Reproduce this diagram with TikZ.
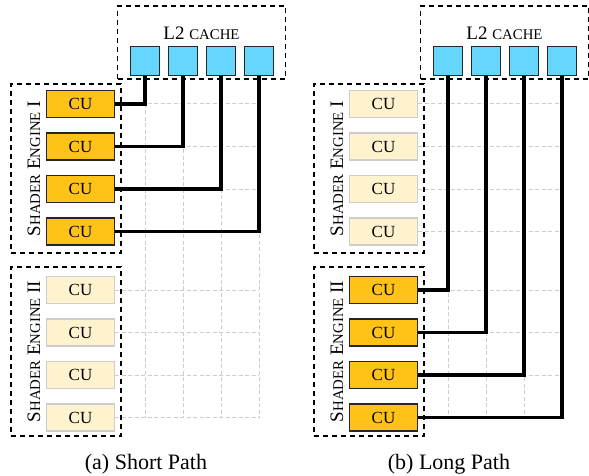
\documentclass[tikz,border=0pt]{standalone}
\usepackage{fontspec}
\setmainfont{Liberation Serif}
\usepackage{tikz}
\pgfdeclarelayer{bg}
\pgfsetlayers{bg,main}
\definecolor{cachefill}{RGB}{102,214,255}
\definecolor{cuonfill}{RGB}{255,194,22}
\definecolor{cuofffill}{RGB}{255,242,207}
\definecolor{cuoffline}{RGB}{205,205,205}
\definecolor{gridline}{RGB}{205,205,205}
\newcommand\fakesc[1]{{\fontsize{14.8pt}{15pt}\selectfont #1}}
\tikzset{
        cache/.style={draw=black!85, fill=cachefill, line width=1.5pt,
                minimum width=29pt, minimum height=29pt, inner sep=0pt},
        cuon/.style={draw=black!85, fill=cuonfill, line width=1.2pt,
                minimum width=68pt, minimum height=27pt, inner sep=0pt,
                font=\fontsize{17pt}{18pt}\selectfont},
        cuoff/.style={cuon, draw=cuoffline, fill=cuofffill},
        group/.style={draw, line width=1.3pt, dash pattern=on 5pt off 4pt, inner sep=0pt},
        grouplabel/.style={rotate=90, font=\fontsize{19pt}{20pt}\selectfont},
        wire/.style={line width=3.2pt},
        gridl/.style={draw=gridline, line width=1pt, dash pattern=on 4pt off 2.5pt},
        caption/.style={font=\fontsize{22pt}{24pt}\selectfont}
}

\begin{document}
\begin{tikzpicture}[x=1pt, y=-1pt]
        \useasboundingbox (0, 0) rectangle (589, 476);
        % (a) short path
        \node (al2) [group, minimum width=168pt, minimum height=73pt] at (201.5, 42.5) {};
        \node (al2lab) [font=\fontsize{19pt}{20pt}\selectfont] at (201.5, 33) {L2 \fakesc{CACHE}};
        \node (ac0) [cache] at (145, 61) {};
        \node (ac1) [cache] at (183, 61) {};
        \node (ac2) [cache] at (221, 61) {};
        \node (ac3) [cache] at (259, 61) {};
        \node (ase1) [group, minimum width=110pt, minimum height=169pt] at (66, 168.5) {};
        \node (ase1lab) [grouplabel] at (34, 168.5) {S\fakesc{HADER} E\fakesc{NGINE} I};
        \node (ase2) [group, minimum width=110pt, minimum height=169pt] at (66, 351.5) {};
        \node (ase2lab) [grouplabel] at (34, 351.5) {S\fakesc{HADER} E\fakesc{NGINE} II};
        \node (au0) [cuon] at (80.5, 104) {CU};
        \node (au1) [cuon] at (80.5, 146.5) {CU};
        \node (au2) [cuon] at (80.5, 189) {CU};
        \node (au3) [cuon] at (80.5, 231.5) {CU};
        \node (au4) [cuoff] at (80.5, 290) {CU};
        \node (au5) [cuoff] at (80.5, 332.5) {CU};
        \node (au6) [cuoff] at (80.5, 375) {CU};
        \node (au7) [cuoff] at (80.5, 417.5) {CU};
        \node (acap) [caption] at (146, 464) {(a) Short Path};
        % (b) long path
        \node (bl2) [group, minimum width=168pt, minimum height=73pt] at (504.5, 42.5) {};
        \node (bl2lab) [font=\fontsize{19pt}{20pt}\selectfont] at (504.5, 33) {L2 \fakesc{CACHE}};
        \node (bc0) [cache] at (448, 61) {};
        \node (bc1) [cache] at (486, 61) {};
        \node (bc2) [cache] at (524, 61) {};
        \node (bc3) [cache] at (562, 61) {};
        \node (bse1) [group, minimum width=110pt, minimum height=169pt] at (369, 168.5) {};
        \node (bse1lab) [grouplabel] at (337, 168.5) {S\fakesc{HADER} E\fakesc{NGINE} I};
        \node (bse2) [group, minimum width=110pt, minimum height=169pt] at (369, 351.5) {};
        \node (bse2lab) [grouplabel] at (337, 351.5) {S\fakesc{HADER} E\fakesc{NGINE} II};
        \node (bu0) [cuoff] at (383.5, 104) {CU};
        \node (bu1) [cuoff] at (383.5, 146.5) {CU};
        \node (bu2) [cuoff] at (383.5, 189) {CU};
        \node (bu3) [cuoff] at (383.5, 231.5) {CU};
        \node (bu4) [cuon] at (383.5, 290) {CU};
        \node (bu5) [cuon] at (383.5, 332.5) {CU};
        \node (bu6) [cuon] at (383.5, 375) {CU};
        \node (bu7) [cuon] at (383.5, 417.5) {CU};
        \node (bcap) [caption] at (449, 464) {(b) Long Path};
        \begin{pgfonlayer}{bg}
                \foreach \p in {a, b} {
                        \foreach \r in {0,...,7}
                                \draw [gridl] (\p u\r.east) -- (\p u\r.east -| \p c3.south);
                        \foreach \c in {0,...,3}
                                \draw [gridl] (\p c\c.south |- \p u0.east) -- (\p c\c.south |- \p u7.east);
                }
        \end{pgfonlayer}
        \draw [wire] (ac0.south) |- (au0.east);
        \draw [wire] (ac1.south) |- (au1.east);
        \draw [wire] (ac2.south) |- (au2.east);
        \draw [wire] (ac3.south) |- (au3.east);
        \draw [wire] (bc0.south) |- (bu4.east);
        \draw [wire] (bc1.south) |- (bu5.east);
        \draw [wire] (bc2.south) |- (bu6.east);
        \draw [wire] (bc3.south) |- (bu7.east);
\end{tikzpicture}
\end{document}
